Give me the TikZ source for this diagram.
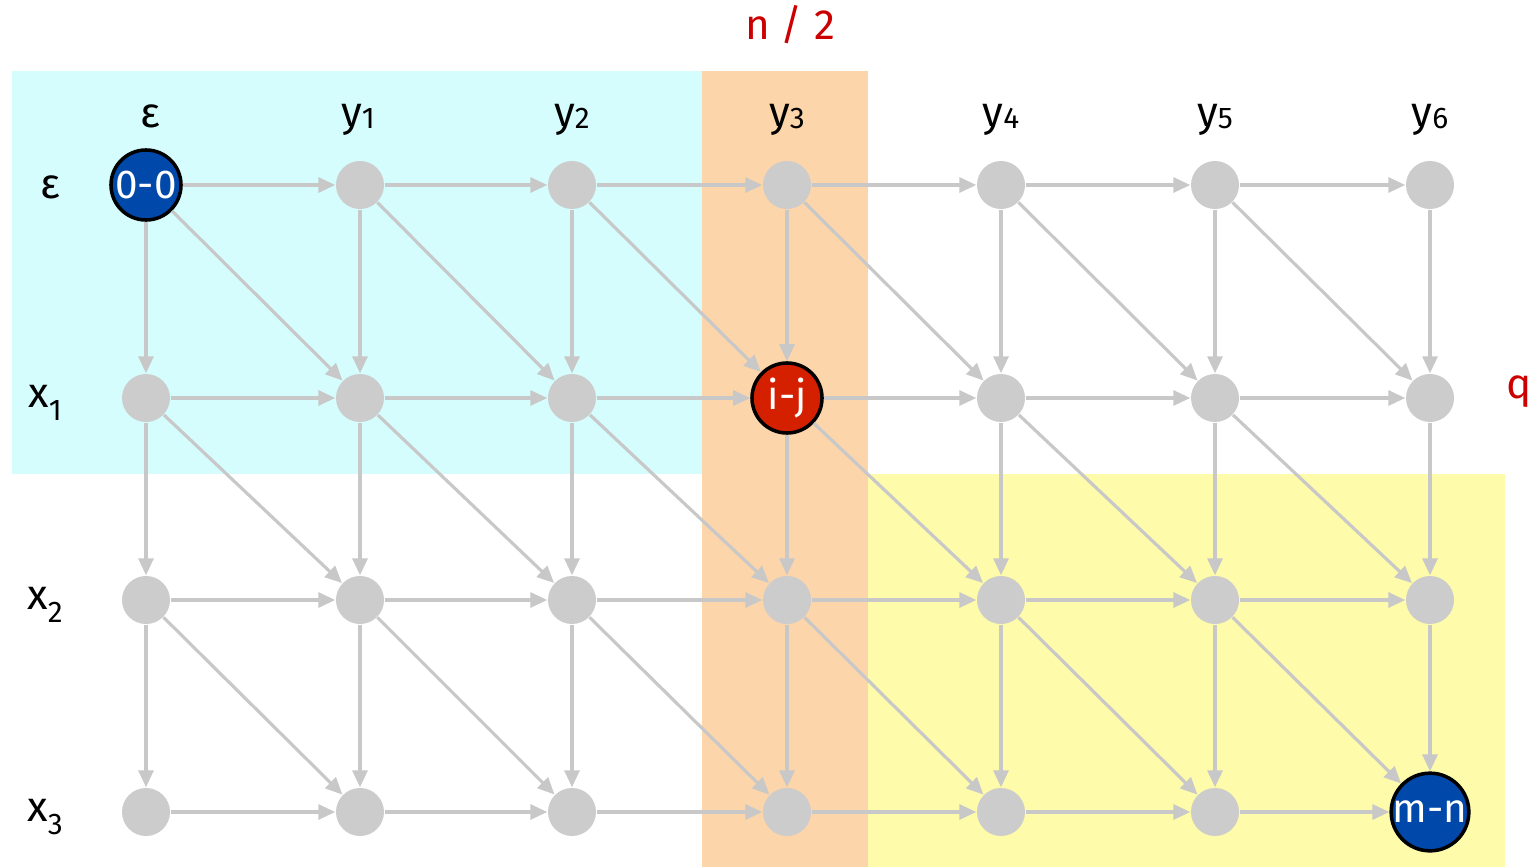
\documentclass[tikz,border=0pt]{standalone}
\usepackage{fontspec}
\setmainfont{Fira Sans}
\usetikzlibrary{arrows.meta}
\definecolor{edgegray}{RGB}{200,200,200}
\definecolor{nodegray}{RGB}{204,204,204}
\definecolor{cyanbg}{RGB}{213,253,253}
\definecolor{orangebg}{RGB}{253,213,170}
\definecolor{yellowbg}{RGB}{254,251,170}
\definecolor{dblue}{RGB}{0,72,170}
\definecolor{dred}{RGB}{213,32,0}
\definecolor{lblred}{RGB}{204,0,0}
\tikzset{
  gnode/.style={circle, fill=nodegray, minimum size=0.48cm, inner sep=0pt},
  bnode/.style={circle, fill=dblue, draw=black, line width=1pt, minimum size=0.7cm, inner sep=0pt, text=white, font=\fontsize{11.5}{11.5}\selectfont},
  rnode/.style={circle, fill=dred, draw=black, line width=1pt, minimum size=0.7cm, inner sep=0pt, text=white, font=\fontsize{11.5}{11.5}\selectfont},
  edge/.style={draw=edgegray, line width=0.9pt, -{Triangle[length=0.17cm, width=0.15cm]}},
  lbl/.style={font=\fontsize{12}{12}\selectfont, text=black},
  redlbl/.style={font=\fontsize{12}{12}\selectfont, text=lblred},
}
\begin{document}
\begin{tikzpicture}[x=0.01cm, y=-0.01cm]
\useasboundingbox (0,0) rectangle (1537,867);
% backgrounds
\fill[cyanbg] (12,71) rectangle (702,474);
\fill[orangebg] (702,71) rectangle (868,867);
\fill[yellowbg] (868,474) rectangle (1505,867);
% grid nodes
\def\colx{{146,360,572,787,1001,1215,1430}}
\def\rowy{{185,398,600,812}}
\foreach \r in {0,...,3}{
  \foreach \c in {0,...,6}{
    \pgfmathsetmacro{\xx}{\colx[\c]}
    \pgfmathsetmacro{\yy}{\rowy[\r]}
    \node[gnode] (n-\r-\c) at (\xx,\yy) {};
  }
}
% special nodes
\node[bnode] (n-0-0) at (146,185) {0-0};
\node[rnode] (n-1-3) at (787,398) {i-j};
\node[bnode] (n-3-6) at (1430,812) {m-n};
% edges
\foreach \r in {0,...,3}{
  \foreach \c in {0,...,5}{
    \pgfmathtruncatemacro{\cn}{\c+1}
    \draw[edge] (n-\r-\c) -- (n-\r-\cn);
  }
}
\foreach \r in {0,...,2}{
  \pgfmathtruncatemacro{\rn}{\r+1}
  \foreach \c in {0,...,6}{
    \draw[edge] (n-\r-\c) -- (n-\rn-\c);
  }
  \foreach \c in {0,...,5}{
    \pgfmathtruncatemacro{\cn}{\c+1}
    \draw[edge] (n-\r-\c) -- (n-\rn-\cn);
  }
}
% column labels
\node[lbl] (ceps) at (150,116) {ε};
\node[lbl] (cy1) at (358,120) {y\raisebox{-0.1ex}{\fontsize{8.5}{8.5}\selectfont 1}};
\node[lbl] (cy2) at (572,120) {y\raisebox{-0.1ex}{\fontsize{8.5}{8.5}\selectfont 2}};
\node[lbl] (cy3) at (787,120) {y\raisebox{-0.1ex}{\fontsize{8.5}{8.5}\selectfont 3}};
\node[lbl] (cy4) at (1001,120) {y\raisebox{-0.1ex}{\fontsize{8.5}{8.5}\selectfont 4}};
\node[lbl] (cy5) at (1215,120) {y\raisebox{-0.1ex}{\fontsize{8.5}{8.5}\selectfont 5}};
\node[lbl] (cy6) at (1430,120) {y\raisebox{-0.1ex}{\fontsize{8.5}{8.5}\selectfont 6}};
% row labels
\node[lbl] (reps) at (50,187) {ε};
\node[lbl] (rx1) at (45,403) {x\raisebox{-0.6ex}{\fontsize{8.5}{8.5}\selectfont 1}};
\node[lbl] (rx2) at (45,605) {x\raisebox{-0.6ex}{\fontsize{8.5}{8.5}\selectfont 2}};
\node[lbl] (rx3) at (45,817) {x\raisebox{-0.6ex}{\fontsize{8.5}{8.5}\selectfont 3}};
% red labels
\node[redlbl] (half) at (790,25) {n / 2};
\node[redlbl] (q) at (1519,392) {q};
\end{tikzpicture}
\end{document}
